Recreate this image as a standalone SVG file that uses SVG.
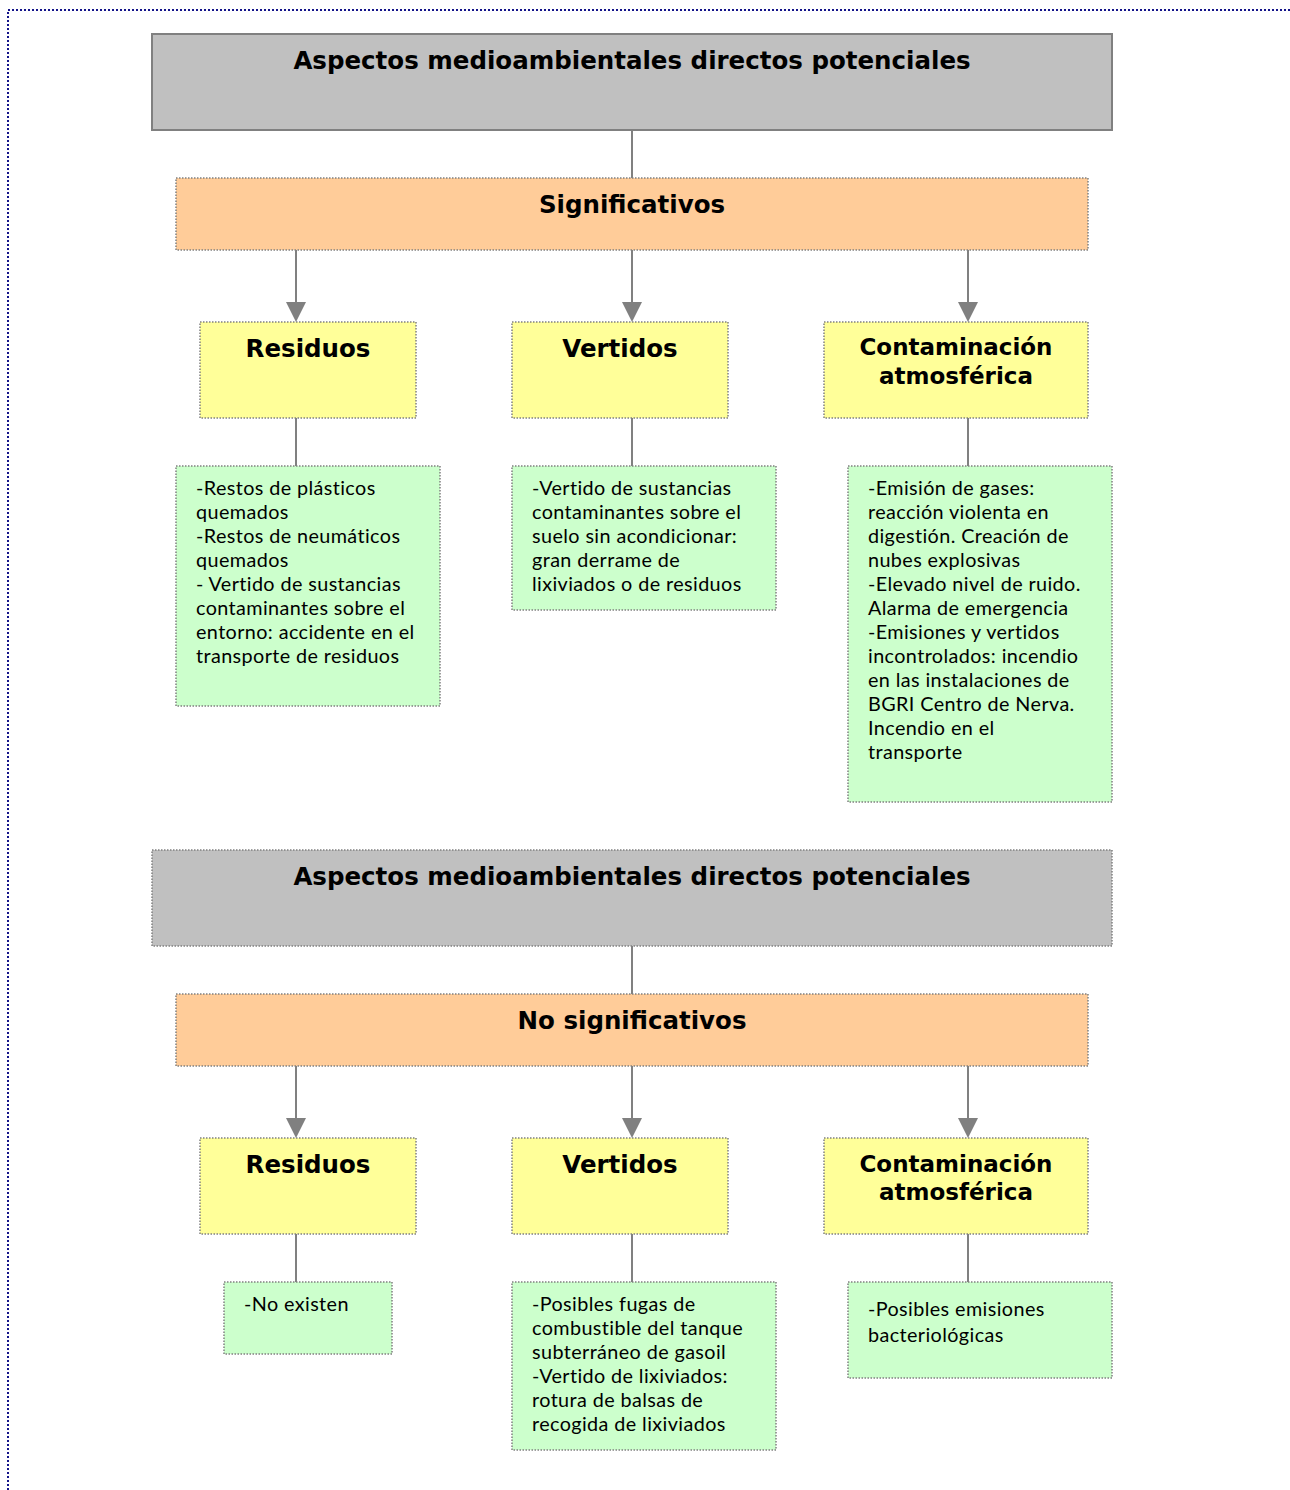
<svg xmlns="http://www.w3.org/2000/svg" width="1290" height="1490" viewBox="0 0 1290 1490">
<defs>
<style>
.frame{fill:none;stroke:#14148a;stroke-width:2;stroke-dasharray:2 2}
.gray{fill:#C0C0C0;stroke:#808080;stroke-width:2}
.grayd{fill:#C0C0C0;stroke:#808080;stroke-width:1.5;stroke-dasharray:1.5 1.5}
.orange{fill:#FFCC99;stroke:#808080;stroke-width:1.5;stroke-dasharray:1.5 1.5}
.yellow{fill:#FFFF99;stroke:#808080;stroke-width:1.5;stroke-dasharray:1.5 1.5}
.green{fill:#CCFFCC;stroke:#808080;stroke-width:1.5;stroke-dasharray:1.5 1.5}
.h{font-family:"DejaVu Sans",Verdana,sans-serif;font-weight:bold;font-size:24.5px;fill:#000;text-anchor:middle}
.hc{font-size:23px}
.t{font-family:Lato,"Noto Sans",sans-serif;font-size:19.8px;letter-spacing:0.4px;fill:#000}
.ln{stroke:#808080;stroke-width:2;fill:none}
.ah{fill:#808080}
</style>
</defs>
<path class="frame" d="M8,1490 L8,10 L1290,10"/>
<g id="connectors">
<line class="ln" x1="632" y1="130" x2="632" y2="178"/>
<path d="M296,250 V304" class="ln"/><path class="ah" d="M286,302 L306,302 L296,322 Z"/>
<path d="M632,250 V304" class="ln"/><path class="ah" d="M622,302 L642,302 L632,322 Z"/>
<path d="M968,250 V304" class="ln"/><path class="ah" d="M958,302 L978,302 L968,322 Z"/>
<line class="ln" x1="296" y1="418" x2="296" y2="466"/>
<line class="ln" x1="632" y1="418" x2="632" y2="466"/>
<line class="ln" x1="968" y1="418" x2="968" y2="466"/>
<line class="ln" x1="632" y1="946" x2="632" y2="994"/>
<path d="M296,1066 V1120" class="ln"/><path class="ah" d="M286,1118 L306,1118 L296,1138 Z"/>
<path d="M632,1066 V1120" class="ln"/><path class="ah" d="M622,1118 L642,1118 L632,1138 Z"/>
<path d="M968,1066 V1120" class="ln"/><path class="ah" d="M958,1118 L978,1118 L968,1138 Z"/>
<line class="ln" x1="296" y1="1234" x2="296" y2="1282"/>
<line class="ln" x1="632" y1="1234" x2="632" y2="1282"/>
<line class="ln" x1="968" y1="1234" x2="968" y2="1282"/>
</g>
<g id="top1"><rect class="gray" x="152" y="34" width="960" height="96"/><text class="h" x="632" y="69">Aspectos medioambientales directos potenciales</text></g>
<g id="sig"><rect class="orange" x="176" y="178" width="912" height="72"/><text class="h" x="632" y="213">Significativos</text></g>
<g id="res1"><rect class="yellow" x="200" y="322" width="216" height="96"/><text class="h" x="308" y="357">Residuos</text></g>
<g id="ver1"><rect class="yellow" x="512" y="322" width="216" height="96"/><text class="h" x="620" y="357">Vertidos</text></g>
<g id="con1"><rect class="yellow" x="824" y="322" width="264" height="96"/><text class="h hc" x="956" y="355">Contaminación</text><text class="h hc" x="956" y="384">atmosférica</text></g>
<g id="res1d"><rect class="green" x="176" y="466" width="264" height="240"/>
<text class="t" x="196" y="495">-Restos de plásticos</text>
<text class="t" x="196" y="519">quemados</text>
<text class="t" x="196" y="543">-Restos de neumáticos</text>
<text class="t" x="196" y="567">quemados</text>
<text class="t" x="196" y="591">- Vertido de sustancias</text>
<text class="t" x="196" y="615">contaminantes sobre el</text>
<text class="t" x="196" y="639">entorno: accidente en el</text>
<text class="t" x="196" y="663">transporte de residuos</text>
</g>
<g id="ver1d"><rect class="green" x="512" y="466" width="264" height="144"/>
<text class="t" x="532" y="495">-Vertido de sustancias</text>
<text class="t" x="532" y="519">contaminantes sobre el</text>
<text class="t" x="532" y="543">suelo sin acondicionar:</text>
<text class="t" x="532" y="567">gran derrame de</text>
<text class="t" x="532" y="591">lixiviados o de residuos</text>
</g>
<g id="con1d"><rect class="green" x="848" y="466" width="264" height="336"/>
<text class="t" x="868" y="495">-Emisión de gases:</text>
<text class="t" x="868" y="519">reacción violenta en</text>
<text class="t" x="868" y="543">digestión. Creación de</text>
<text class="t" x="868" y="567">nubes explosivas</text>
<text class="t" x="868" y="591">-Elevado nivel de ruido.</text>
<text class="t" x="868" y="615">Alarma de emergencia</text>
<text class="t" x="868" y="639">-Emisiones y vertidos</text>
<text class="t" x="868" y="663">incontrolados: incendio</text>
<text class="t" x="868" y="687">en las instalaciones de</text>
<text class="t" x="868" y="711">BGRI Centro de Nerva.</text>
<text class="t" x="868" y="735">Incendio en el</text>
<text class="t" x="868" y="759">transporte</text>
</g>
<g id="top2"><rect class="grayd" x="152" y="850" width="960" height="96"/><text class="h" x="632" y="885">Aspectos medioambientales directos potenciales</text></g>
<g id="nosig"><rect class="orange" x="176" y="994" width="912" height="72"/><text class="h" x="632" y="1029">No significativos</text></g>
<g id="res2"><rect class="yellow" x="200" y="1138" width="216" height="96"/><text class="h" x="308" y="1173">Residuos</text></g>
<g id="ver2"><rect class="yellow" x="512" y="1138" width="216" height="96"/><text class="h" x="620" y="1173">Vertidos</text></g>
<g id="con2"><rect class="yellow" x="824" y="1138" width="264" height="96"/><text class="h hc" x="956" y="1172">Contaminación</text><text class="h hc" x="956" y="1200">atmosférica</text></g>
<g id="res2d"><rect class="green" x="224" y="1282" width="168" height="72"/>
<text class="t" x="244" y="1311">-No existen</text>
</g>
<g id="ver2d"><rect class="green" x="512" y="1282" width="264" height="168"/>
<text class="t" x="532" y="1311">-Posibles fugas de</text>
<text class="t" x="532" y="1335">combustible del tanque</text>
<text class="t" x="532" y="1359">subterráneo de gasoil</text>
<text class="t" x="532" y="1383">-Vertido de lixiviados:</text>
<text class="t" x="532" y="1407">rotura de balsas de</text>
<text class="t" x="532" y="1431">recogida de lixiviados</text>
</g>
<g id="con2d"><rect class="green" x="848" y="1282" width="264" height="96"/>
<text class="t" x="868" y="1316">-Posibles emisiones</text>
<text class="t" x="868" y="1342">bacteriológicas</text>
</g>
</svg>
